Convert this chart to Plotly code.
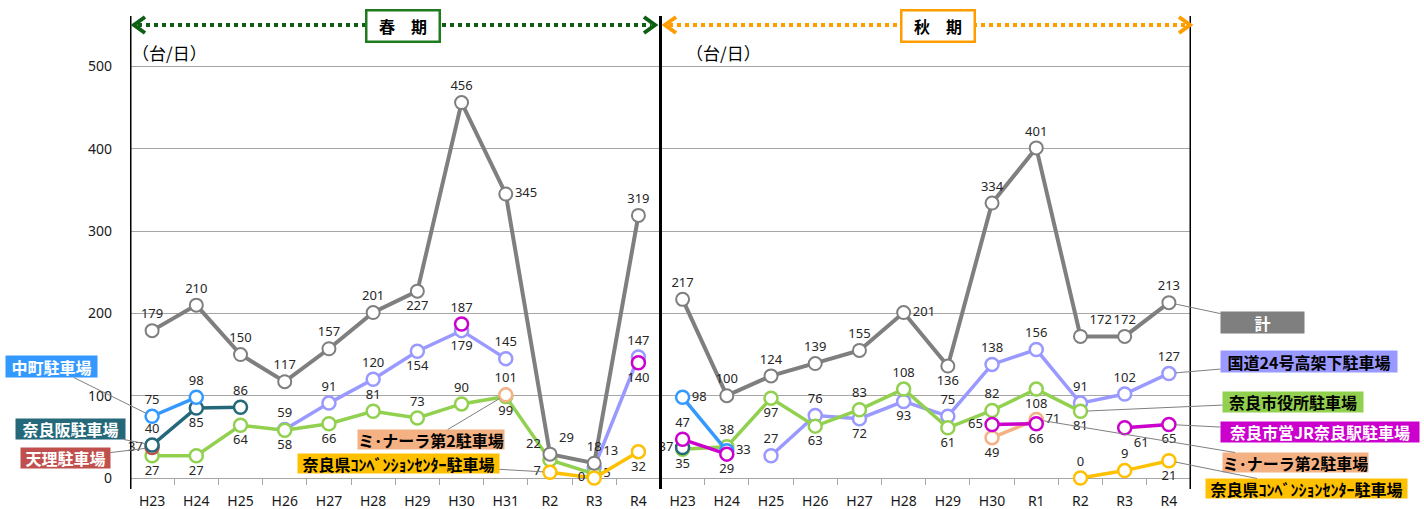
import plotly.graph_objects as go

# ---- categories -----------------------------------------------------------
spring_years = ["H23", "H24", "H25", "H26", "H27", "H28", "H29", "H30", "H31", "R2", "R3", "R4"]
autumn_years = ["H23", "H24", "H25", "H26", "H27", "H28", "H29", "H30", "R1", "R2", "R3", "R4"]

N = None
# ---- series values (台/日) -------------------------------------------------
total_spring = [179, 210, 150, 117, 157, 201, 227, 456, 345, 29, 18, 319]
total_autumn = [217, 100, 124, 139, 155, 201, 136, 334, 401, 172, 172, 213]
kokudo_spring = [N, N, N, 59, 91, 120, 154, 179, 145, N, 13, 147]
kokudo_autumn = [N, N, 27, 76, 72, 93, 75, 138, 156, 91, 102, 127]
shiyakusho_spring = [27, 27, 64, 58, 66, 81, 73, 90, 99, 22, 5, N]
shiyakusho_autumn = [35, 38, 97, 63, 83, 108, 61, 82, 108, 81, N, N]
jr_spring = [N, N, N, N, N, N, N, 187, N, N, N, 140]
jr_autumn = [47, 29, N, N, N, N, N, 65, 66, N, 61, 65]
minara_spring = [N, N, N, N, N, N, N, N, 101, N, N, N]
minara_autumn = [N, N, N, N, N, N, N, 49, 71, N, N, N]
convention_spring = [N, N, N, N, N, N, N, N, N, 7, 0, 32]
convention_autumn = [N, N, N, N, N, N, N, N, N, 0, 9, 21]
nakamachi_spring = [75, 98, N, N, N, N, N, N, N, N, N, N]
nakamachi_autumn = [98, 33, N, N, N, N, N, N, N, N, N, N]
narazaka_spring = [40, 85, 86, N, N, N, N, N, N, N, N, N]
narazaka_autumn = [37, N, N, N, N, N, N, N, N, N, N, N]
tenri_spring = [37, N, N, N, N, N, N, N, N, N, N, N]
tenri_autumn = [N] * 12

# ---- label placement per point --------------------------------------------
T, B, R, L = "top center", "bottom center", "middle right", "middle left"
TR, TL, BR = "top right", "top left", "bottom right"
pos = {
    "total": ([T, T, T, T, T, T, B, T, R, TR, T, T],
              [T, T, T, T, T, R, B, T, T, TR, T, T]),
    "kokudo": ([T, T, T, T, T, T, B, B, T, T, TR, T],
               [T, T, T, T, B, B, T, T, T, T, T, T]),
    "shiyakusho": ([B, B, B, B, B, T, T, T, B, TL, R, B],
                   [B, T, B, B, T, T, B, T, B, B, B, B]),
    "jr": ([T] * 7 + [T, T, T, T, B],
           [T, B, T, T, T, T, T, L, B, B, BR, B]),
    "minara": ([T] * 12, [B] * 7 + [B, R, B, B, B]),
    "convention": ([B] * 9 + [L, L, B], [T] * 9 + [T, T, B]),
    "nakamachi": ([T] * 12, [R] * 12),
    "narazaka": ([T, B, T] + [T] * 9, [L] * 12),
    "tenri": ([L] * 12, [L] * 12),
}

colors = {
    "total": "#7F7F7F",
    "kokudo": "#9999FF",
    "shiyakusho": "#92D050",
    "jr": "#CC00CC",
    "minara": "#F4B183",
    "convention": "#FFC000",
    "nakamachi": "#3399FF",
    "narazaka": "#24687A",
    "tenri": "#C0504D",
}

series = [
    ("kokudo", kokudo_spring, kokudo_autumn),
    ("shiyakusho", shiyakusho_spring, shiyakusho_autumn),
    ("convention", convention_spring, convention_autumn),
    ("minara", minara_spring, minara_autumn),
    ("tenri", tenri_spring, tenri_autumn),
    ("narazaka", narazaka_spring, narazaka_autumn),
    ("nakamachi", nakamachi_spring, nakamachi_autumn),
    ("jr", jr_spring, jr_autumn),
    ("total", total_spring, total_autumn),
]

NUM_FONT = "Noto Sans, sans-serif"
JP_FONT = "Noto Sans CJK JP, sans-serif"

fig = go.Figure()

for key, spring, autumn in series:
    color = colors[key]
    for season, vals, offset in (("spring", spring, 0), ("autumn", autumn, 12)):
        xs = [i + offset for i, v in enumerate(vals)]
        texts = ["" if v is None else str(v) for v in vals]
        tp = pos[key][0] if season == "spring" else pos[key][1]
        is_total = key == "total"
        fig.add_trace(go.Scatter(
            x=xs, y=vals, mode="lines+markers+text",
            text=texts, textposition=tp,
            textfont=dict(family=NUM_FONT, size=13, color="#262626"),
            line=dict(color=color, width=4 if is_total else 3.5),
            marker=dict(symbol="circle", size=13, color="white",
                        line=dict(color=color, width=2 if is_total else 2.5)),
            connectgaps=False, showlegend=False, cliponaxis=False,
            hoverinfo="skip",
        ))

# ---- geometry helpers ------------------------------------------------------
W, H = 1424, 509
ML, MR, MT, MB = 130, 233, 17, 31
PW, PH = W - ML - MR, H - MT - MB
YMAX = 560


def px_x(px):
    return (px - ML) / PW


def px_y(py):
    return (H - MB - py) / PH


def data_x(px):
    return (px - ML) / PW * 24 - 0.5


def data_y(py):
    return (H - MB - py) / PH * YMAX


shapes = []
# season separators / frame lines
for xv in (-0.5, 11.5, 23.5):
    shapes.append(dict(type="line", xref="x", yref="paper", x0=xv, x1=xv,
                       y0=px_y(489), y1=px_y(16), line=dict(color="black", width=3)))


def season_arrow(x_left, x_right, color):
    yc = px_y(25)
    shapes.append(dict(type="line", xref="paper", yref="paper",
                       x0=px_x(x_left + 4), x1=px_x(x_right - 4), y0=yc, y1=yc,
                       line=dict(color=color, width=4, dash="dot")))
    for tip, back in ((x_left, x_left + 11), (x_right, x_right - 11)):
        path = "M {a},{b} L {c},{d} L {e},{f}".format(
            a=px_x(back), b=px_y(17), c=px_x(tip), d=yc, e=px_x(back), f=px_y(33))
        shapes.append(dict(type="path", xref="paper", yref="paper", path=path,
                           line=dict(color=color, width=4)))


season_arrow(134, 655, "#0F5F14")
season_arrow(665, 1190, "#FF9C00")

annotations = []


def season_box(cx, text, color):
    annotations.append(dict(
        xref="paper", yref="paper", x=px_x(cx), y=px_y(26.5), text=text,
        showarrow=False, xanchor="center", yanchor="middle",
        width=71, height=29, bgcolor="white", bordercolor=color, borderwidth=2.5,
        borderpad=0, font=dict(family=JP_FONT, size=16, color="black")))


season_box(402.5, "<b>春　期</b>", "#1E7B1E")
season_box(937.5, "<b>秋　期</b>", "#FF9C00")

for xpx in (130, 684):
    annotations.append(dict(xref="paper", yref="paper", x=px_x(xpx), y=px_y(53),
                            text="（台/日）", showarrow=False, xanchor="left",
                            yanchor="middle",
                            font=dict(family=JP_FONT, size=17, color="black")))


def tag(text, box, point, bg, fg):
    x0, x1, y0, y1 = box
    cx, cy = (x0 + x1) / 2, (y0 + y1) / 2
    annotations.append(dict(
        xref="x", yref="y", x=point[0], y=point[1],
        axref="x", ayref="y", ax=data_x(cx), ay=data_y(cy),
        text="<b>" + text + "</b>", showarrow=True, arrowhead=0, arrowwidth=1,
        arrowcolor="#7F7F7F", standoff=7,
        width=x1 - x0, height=y1 - y0, bgcolor=bg, borderpad=0,
        font=dict(family=JP_FONT, size=16, color=fg)))


# labels tied to spring points
tag("中町駐車場", (6, 97, 356, 377), (0, nakamachi_spring[0]), colors["nakamachi"], "white")
tag("奈良阪駐車場", (16, 125, 419, 439), (0, narazaka_spring[0]), colors["narazaka"], "white")
tag("天理駐車場", (21, 110, 448, 468), (0, tenri_spring[0]), colors["tenri"], "white")
tag("ミ･ナーラ第2駐車場", (358, 504, 430, 449), (8, minara_spring[8]), colors["minara"], "black")
tag("奈良県ｺﾝﾍﾞﾝｼｮﾝｾﾝﾀｰ駐車場", (298, 499, 454, 473), (9, convention_spring[9]),
    colors["convention"], "black")
# labels tied to autumn points
tag("計", (1221, 1304, 312, 333), (23, total_autumn[11]), colors["total"], "white")
tag("国道24号高架下駐車場", (1221, 1397, 351, 372), (23, kokudo_autumn[11]), colors["kokudo"], "black")
tag("奈良市役所駐車場", (1223, 1363, 392, 412), (21, shiyakusho_autumn[9]),
    colors["shiyakusho"], "black")
tag("奈良市営JR奈良駅駐車場", (1221, 1419, 422, 442), (23, jr_autumn[11]), colors["jr"], "white")
tag("ミ･ナーラ第2駐車場", (1223, 1368, 453, 472), (20, minara_autumn[8]), colors["minara"], "black")
tag("奈良県ｺﾝﾍﾞﾝｼｮﾝｾﾝﾀｰ駐車場", (1206, 1407, 479, 498), (23, convention_autumn[11]),
    colors["convention"], "black")

fig.update_layout(
    width=W, height=H,
    margin=dict(l=ML, r=MR, t=MT, b=MB, autoexpand=False),
    plot_bgcolor="white", paper_bgcolor="white",
    shapes=shapes, annotations=annotations,
    xaxis=dict(
        range=[-0.5, 23.5], tickmode="array", automargin=False,
        tickvals=list(range(24)), ticktext=spring_years + autumn_years,
        showgrid=False, zeroline=False, showline=False, ticks="",
        ticklabelstandoff=13,
        tickfont=dict(family=NUM_FONT, size=14, color="#1a1a1a"),
        minor=dict(tickmode="array", tickvals=[i + 0.5 for i in range(23)],
                   ticks="outside", ticklen=6, tickcolor="#A6A6A6", tickwidth=1),
    ),
    yaxis=dict(
        range=[0, YMAX], tickmode="array", tickvals=[0, 100, 200, 300, 400, 500],
        automargin=False,
        showgrid=True, gridcolor="#A6A6A6", gridwidth=1,
        zeroline=True, zerolinecolor="#A6A6A6", zerolinewidth=1,
        showline=False, ticks="", ticklabelstandoff=17,
        tickfont=dict(family=NUM_FONT, size=14, color="#1a1a1a"),
    ),
)

fig.write_html("out.html")
